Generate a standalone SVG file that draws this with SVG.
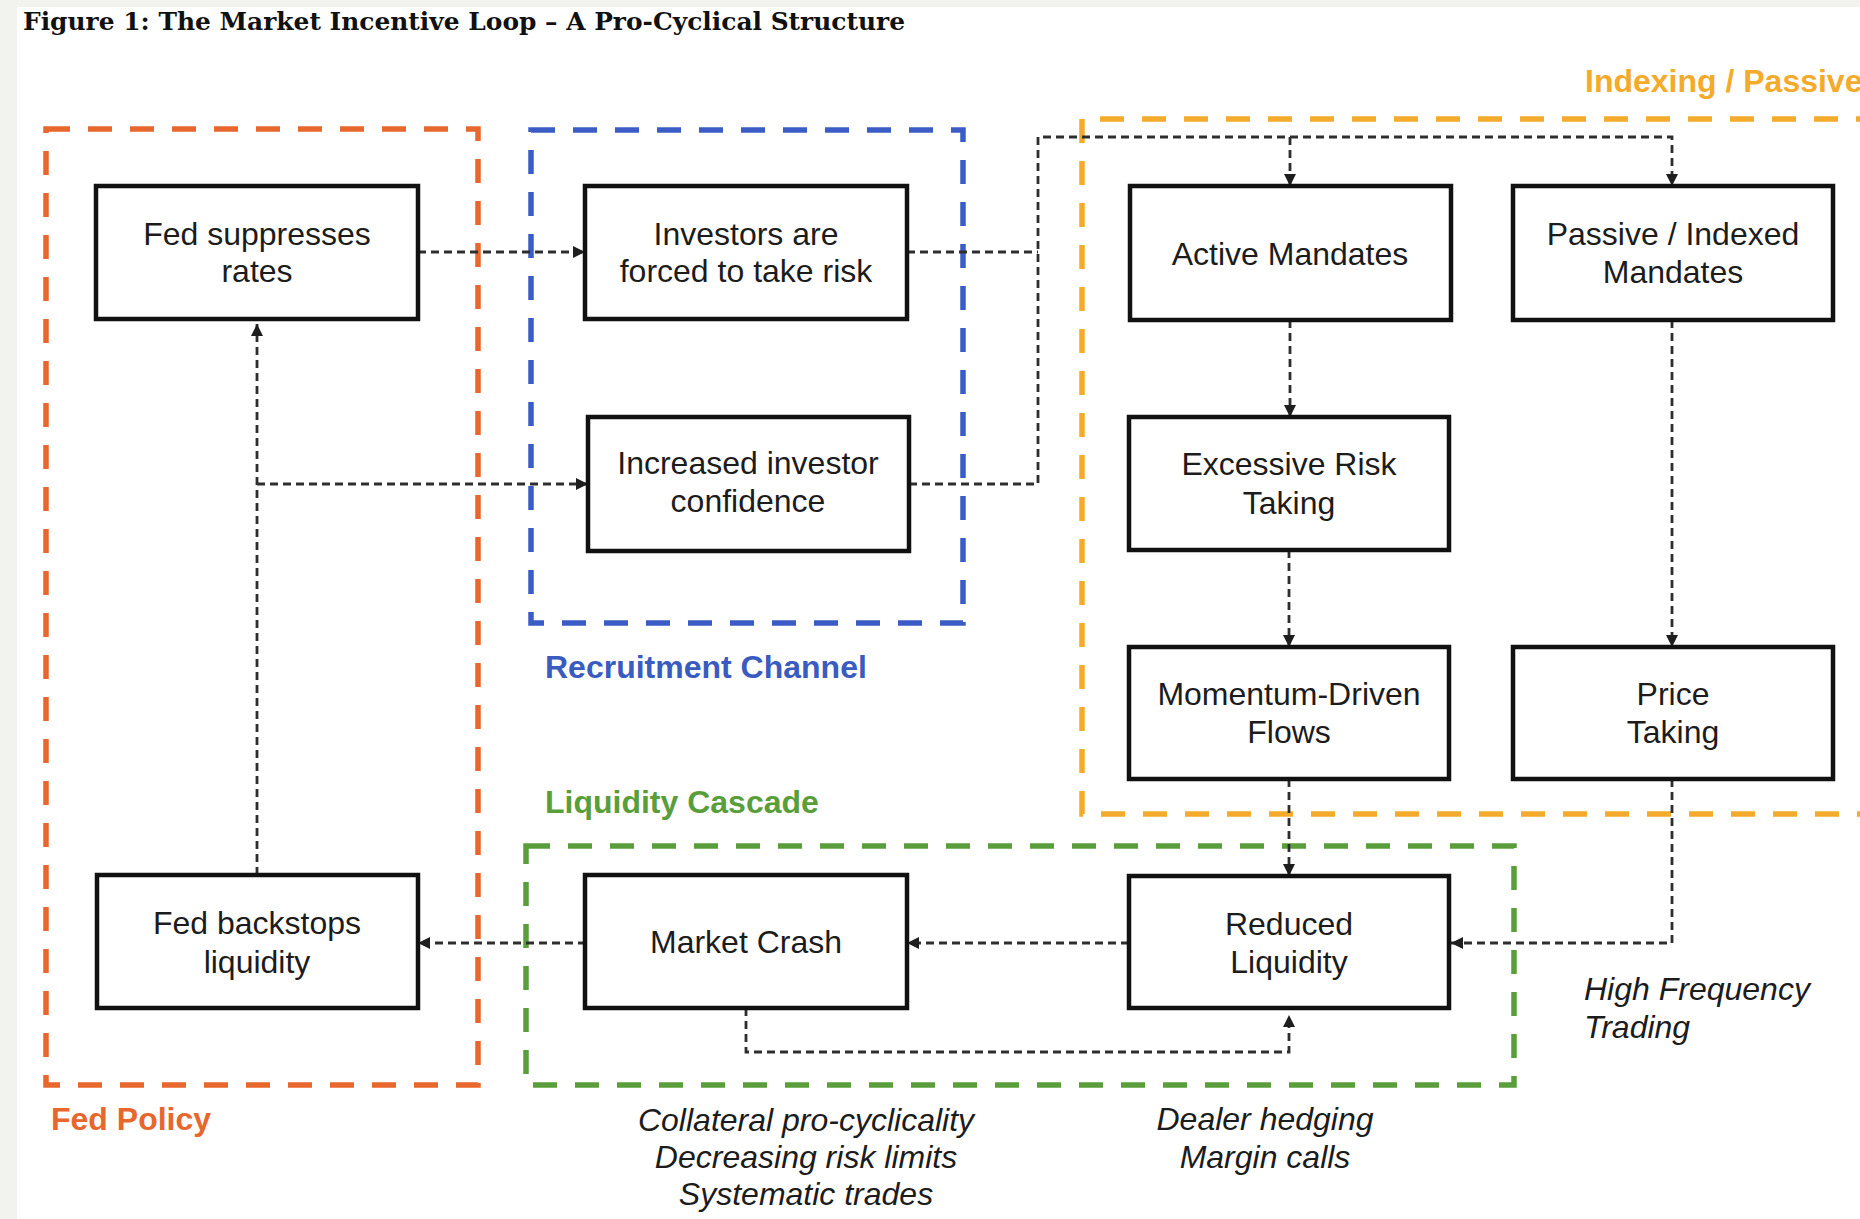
<svg xmlns="http://www.w3.org/2000/svg" width="1860" height="1219" viewBox="0 0 1860 1219">
<defs>
<marker id="arr" viewBox="0 0 10 10" refX="10" refY="5" markerWidth="12" markerHeight="12" markerUnits="userSpaceOnUse" orient="auto">
<path d="M0,0 L10,5 L0,10 z" fill="#1e1e1e"/>
</marker>
<style>
.node rect{fill:#ffffff;stroke:#111111;stroke-width:4.5}
.node text,.note{font-family:"Liberation Sans",Arial,sans-serif;font-size:32px;fill:#1c1c1c;text-anchor:middle}
.note{font-style:italic}
.frame{fill:none;stroke-width:5.5;stroke-dasharray:24 18}
.glabel{font-family:"Liberation Sans",Arial,sans-serif;font-size:32px;font-weight:bold}
.conn path{fill:none;stroke:#2e2e2e;stroke-width:2.8;stroke-dasharray:8 5}
</style>
</defs>
<rect x="0" y="0" width="1860" height="1219" fill="#ffffff"/>
<rect x="0" y="0" width="1860" height="7" fill="#f2f3ee"/>
<rect x="0" y="0" width="17" height="1219" fill="#f2f3ee"/>
<text x="23" y="30" font-family="'DejaVu Serif','Liberation Serif',serif" font-size="25" font-weight="bold" fill="#111" textLength="882" lengthAdjust="spacingAndGlyphs">Figure 1: The Market Incentive Loop – A Pro-Cyclical Structure</text>

<g id="groups">
<rect id="g-fed" class="frame" x="46" y="129" width="432" height="956" stroke="#e8672c"/>
<rect id="g-recruit" class="frame" x="531" y="130" width="432" height="493" stroke="#3b5cc6"/>
<path id="g-index" class="frame" d="M1880,119 L1082,119 L1082,814 L1880,814" stroke="#f4ab2c"/>
<rect id="g-liq" class="frame" x="526" y="846" width="988" height="239" stroke="#5a9e3b"/>
<text class="glabel" x="51" y="1130" fill="#e8672c">Fed Policy</text>
<text class="glabel" x="545" y="678" fill="#3a5bbf">Recruitment Channel</text>
<text class="glabel" x="545" y="813" fill="#5a9e3b">Liquidity Cascade</text>
<text class="glabel" x="1585" y="92" fill="#f4ab2c">Indexing / Passive</text>
</g>

<g id="connectors" class="conn">
<path d="M418,252 L585,252" marker-end="url(#arr)"/>
<path d="M907,252 L1038,252"/>
<path d="M909,484 L1038,484 L1038,137 L1672,137 L1672,186" marker-end="url(#arr)"/>
<path d="M1290,137 L1290,186" marker-end="url(#arr)"/>
<path d="M1290,320 L1290,417" marker-end="url(#arr)"/>
<path d="M1289,550 L1289,647" marker-end="url(#arr)"/>
<path d="M1672,320 L1672,647" marker-end="url(#arr)"/>
<path d="M1289,779 L1289,876" marker-end="url(#arr)"/>
<path d="M1672,779 L1672,943 L1451,943" marker-end="url(#arr)"/>
<path d="M1129,943 L907,943" marker-end="url(#arr)"/>
<path d="M586,943 L418,943" marker-end="url(#arr)"/>
<path d="M746,1008 L746,1052 L1289,1052 L1289,1015" marker-end="url(#arr)"/>
<path d="M257,875 L257,324" marker-end="url(#arr)"/>
<path d="M257,484 L588,484" marker-end="url(#arr)"/>
</g>

<g id="n-fed-suppresses" class="node">
<rect x="96" y="186" width="322" height="133"/>
<text x="257" y="245">Fed suppresses</text>
<text x="257" y="282">rates</text>
</g>
<g id="n-investors-forced" class="node">
<rect x="585" y="186" width="322" height="133"/>
<text x="746" y="245">Investors are</text>
<text x="746" y="282">forced to take risk</text>
</g>
<g id="n-confidence" class="node">
<rect x="588" y="417" width="321" height="134"/>
<text x="748" y="474">Increased investor</text>
<text x="748" y="512">confidence</text>
</g>
<g id="n-active" class="node">
<rect x="1130" y="186" width="321" height="134"/>
<text x="1290" y="265">Active Mandates</text>
</g>
<g id="n-passive" class="node">
<rect x="1513" y="186" width="320" height="134"/>
<text x="1673" y="245">Passive / Indexed</text>
<text x="1673" y="283">Mandates</text>
</g>
<g id="n-excessive" class="node">
<rect x="1129" y="417" width="320" height="133"/>
<text x="1289" y="475">Excessive Risk</text>
<text x="1289" y="514">Taking</text>
</g>
<g id="n-momentum" class="node">
<rect x="1129" y="647" width="320" height="132"/>
<text x="1289" y="705">Momentum-Driven</text>
<text x="1289" y="743">Flows</text>
</g>
<g id="n-price" class="node">
<rect x="1513" y="647" width="320" height="132"/>
<text x="1673" y="705">Price</text>
<text x="1673" y="743">Taking</text>
</g>
<g id="n-fed-backstops" class="node">
<rect x="97" y="875" width="321" height="133"/>
<text x="257" y="934">Fed backstops</text>
<text x="257" y="973">liquidity</text>
</g>
<g id="n-crash" class="node">
<rect x="585" y="875" width="322" height="133"/>
<text x="746" y="953">Market Crash</text>
</g>
<g id="n-reduced" class="node">
<rect x="1129" y="876" width="320" height="132"/>
<text x="1289" y="935">Reduced</text>
<text x="1289" y="973">Liquidity</text>
</g>

<g id="notes">
<text class="note" x="806" y="1131">Collateral pro-cyclicality</text>
<text class="note" x="806" y="1168">Decreasing risk limits</text>
<text class="note" x="806" y="1205">Systematic trades</text>
<text class="note" x="1265" y="1130">Dealer hedging</text>
<text class="note" x="1265" y="1168">Margin calls</text>
<text class="note" x="1584" y="1000" style="text-anchor:start">High Frequency</text>
<text class="note" x="1584" y="1038" style="text-anchor:start">Trading</text>
</g>
</svg>
